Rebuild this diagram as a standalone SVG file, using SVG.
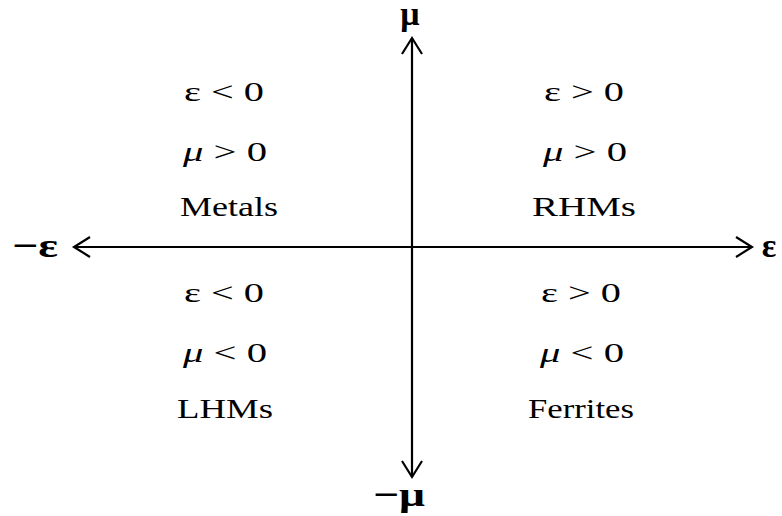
<svg xmlns="http://www.w3.org/2000/svg" width="782" height="516" viewBox="0 0 782 516">
<style>
text{font-family:'Liberation Serif',serif;fill:#000;text-anchor:middle}
.t{font-size:28px}
.b{font-size:34px;font-weight:bold}
.ax{stroke:#000;stroke-width:2.2;fill:none}
</style>
<rect width="782" height="516" fill="#fff"/>
<g id="axes">
<line class="ax" x1="412" y1="38" x2="412" y2="477"/>
<line class="ax" x1="74" y1="247" x2="752" y2="247"/>
<polyline class="ax" points="402,54 412,38 422,54"/>
<polyline class="ax" points="402,461 412,477 422,461"/>
<polyline class="ax" points="90,237 74,247 90,257"/>
<polyline class="ax" points="736,237 752,247 736,257"/>
</g>
<g id="labels">
<text class="b" x="410" y="25">μ</text>
<text class="b" x="35" y="257" textLength="46" lengthAdjust="spacingAndGlyphs">−ε</text>
<text class="b" x="769" y="257">ε</text>
<text class="b" x="399" y="506" textLength="52" lengthAdjust="spacingAndGlyphs">−μ</text>
</g>
<g id="q2">
<text class="t" x="224" y="101" textLength="80" lengthAdjust="spacingAndGlyphs">ε &lt; 0</text>
<text class="t" x="225" y="161" textLength="84" lengthAdjust="spacingAndGlyphs"><tspan font-style="italic">μ</tspan> &gt; 0</text>
<text class="t" x="229" y="216" textLength="98" lengthAdjust="spacingAndGlyphs">Metals</text>
</g>
<g id="q1">
<text class="t" x="584" y="101" textLength="80" lengthAdjust="spacingAndGlyphs">ε &gt; 0</text>
<text class="t" x="585" y="161" textLength="84" lengthAdjust="spacingAndGlyphs"><tspan font-style="italic">μ</tspan> &gt; 0</text>
<text class="t" x="584" y="216" textLength="104" lengthAdjust="spacingAndGlyphs">RHMs</text>
</g>
<g id="q3">
<text class="t" x="224" y="302" textLength="80" lengthAdjust="spacingAndGlyphs">ε &lt; 0</text>
<text class="t" x="225" y="362" textLength="84" lengthAdjust="spacingAndGlyphs"><tspan font-style="italic">μ</tspan> &lt; 0</text>
<text class="t" x="225" y="418" textLength="96" lengthAdjust="spacingAndGlyphs">LHMs</text>
</g>
<g id="q4">
<text class="t" x="581" y="302" textLength="80" lengthAdjust="spacingAndGlyphs">ε &gt; 0</text>
<text class="t" x="582" y="362" textLength="84" lengthAdjust="spacingAndGlyphs"><tspan font-style="italic">μ</tspan> &lt; 0</text>
<text class="t" x="581" y="418" textLength="106" lengthAdjust="spacingAndGlyphs">Ferrites</text>
</g>
</svg>
